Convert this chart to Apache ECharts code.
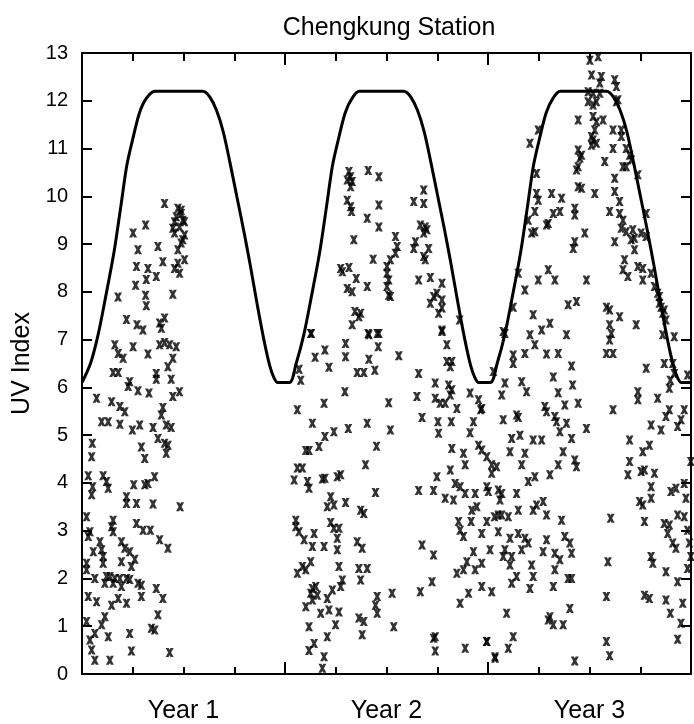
<!doctype html>
<html>
<head>
<meta charset="utf-8">
<title>Chengkung Station</title>
<style>
  html, body { margin: 0; padding: 0; background: #fff; }
  #main { width: 694px; height: 724px; }
</style>
</head>
<body>
<div id="main"></div>
<script src="https://cdn.jsdelivr.net/npm/echarts@6/dist/echarts.min.js"></script>
<script>
// x runs in months from the start of year 1 (0..36), y is the UV index
var yearLabels = ['Year 1', 'Year 2', 'Year 3'];
var yearLabelMonths = [6, 18, 30];

// clear-sky maximum UV curve
var curveMonths = [0, 0.5, 0.95, 1.4, 1.9, 2.3, 2.65, 3.0, 3.4, 3.8, 4.3,
    7.15, 7.55, 7.95, 8.35, 8.75, 9.15, 9.55, 9.95, 10.35, 10.75, 11.1, 11.35, 11.57,
    12.26, 12.66, 13.11, 13.56, 14.06, 14.46, 14.81, 15.16, 15.56, 15.96, 16.39,
    19.03, 19.43, 19.83, 20.23, 20.63, 21.03, 21.43, 21.83, 22.23, 22.63, 22.98, 23.23, 23.45,
    24.14, 24.54, 24.99, 25.44, 25.94, 26.34, 26.69, 27.04, 27.44, 27.84, 28.27,
    31.01, 31.41, 31.81, 32.21, 32.61, 33.01, 33.41, 33.81, 34.21, 34.61, 34.96, 35.21, 35.43, 36];
var curveUV = [6.1, 6.5, 7.1, 7.9, 8.85, 9.8, 10.65, 11.2, 11.75, 12.05, 12.2,
    12.2, 12.08, 11.8, 11.35, 10.7, 10.0, 9.3, 8.55, 7.75, 7.0, 6.45, 6.2, 6.1,
    6.1, 6.5, 7.1, 7.9, 8.85, 9.8, 10.65, 11.2, 11.75, 12.05, 12.2,
    12.2, 12.08, 11.8, 11.35, 10.7, 10.0, 9.3, 8.55, 7.75, 7.0, 6.45, 6.2, 6.1,
    6.1, 6.5, 7.1, 7.9, 8.85, 9.8, 10.65, 11.2, 11.75, 12.05, 12.2,
    12.2, 12.08, 11.8, 11.35, 10.7, 10.0, 9.3, 8.55, 7.75, 7.0, 6.45, 6.2, 6.1, 6.1];

// measured daily UV index, [month, uv]
var year1Obs = [[4.88,9.85],[5.67,9.75],[5.86,9.71],[5.57,9.57],[5.86,9.64],[5.96,9.50],[6.06,9.47],[5.47,9.47],[5.77,9.36],[5.37,9.33],[5.47,9.23],[6.06,9.19],[5.96,9.09],[5.86,9.02],[5.67,8.88],[4.49,8.95],[3.31,8.88],[3.02,9.23],[3.76,9.40],[3.22,8.53],[3.90,8.49],[4.39,8.32],[3.80,8.26],[4.78,8.63],[5.67,8.60],[5.47,8.49],[6.06,8.67],[5.77,8.39],[3.17,8.14],[3.76,7.93],[2.13,7.89],[5.37,7.95],[3.80,7.71],[2.63,7.42],[3.25,7.31],[3.60,7.20],[4.59,7.35],[4.88,7.45],[4.69,7.24],
    [1.94,6.89],[3.02,6.85],[2.14,6.71],[2.43,6.61],[3.90,6.70],[4.59,6.89],[4.88,6.94],[5.18,6.89],[5.57,6.85],[5.37,6.61],[5.08,6.43],[1.84,6.31],[2.14,6.31],[4.39,6.29],[4.39,6.17],[5.27,6.17],[2.82,6.12],[2.73,6.02],[3.31,5.93],[3.96,5.88],[5.76,5.91],[5.37,5.81],[0.86,5.77],[1.75,5.70],[2.24,5.60],[2.53,5.49],[4.78,5.58],[4.69,5.42],[1.16,5.28],[1.55,5.28],[2.24,5.23],[3.41,5.21],[2.98,5.11],[4.20,5.16],[4.98,5.21],[5.27,5.16],[4.49,4.93],[4.88,4.83],[5.08,4.79],[4.98,4.62],[0.61,4.83],[0.57,4.55],[3.51,4.75],[3.71,4.51],
    [0.37,4.15],[1.25,4.15],[1.45,4.03],[1.55,3.89],[0.63,3.92],[0.57,3.75],[3.06,3.96],[3.71,3.96],[3.90,3.99],[4.29,4.13],[2.63,3.71],[2.63,3.57],[3.22,3.57],[4.20,3.56],[5.80,3.50],[0.27,3.29],[1.84,3.22],[1.75,3.08],[1.84,2.98],[0.47,2.98],[0.37,2.88],[3.22,3.15],[3.61,3.01],[4.04,3.01],[1.06,2.77],[1.16,2.60],[0.67,2.56],[1.25,2.46],[1.25,2.32],[2.33,2.77],[2.53,2.63],[2.82,2.56],[4.59,2.81],[5.08,2.63],[3.12,2.40],[2.92,2.25],[2.33,2.35],[0.27,2.32],[0.27,2.18],
    [0.76,2.00],[1.45,2.04],[1.65,2.04],[1.94,2.00],[2.24,2.00],[2.63,2.00],[2.82,1.98],[3.31,1.90],[3.51,1.86],[1.84,1.90],[1.35,1.90],[2.33,1.83],[4.39,1.79],[4.78,1.58],[3.51,1.62],[0.86,1.51],[1.75,1.44],[2.14,1.58],[2.63,1.48],[4.49,1.24],[1.35,1.20],[1.16,1.03],[4.10,0.96],[0.37,1.62],[0.27,1.10],
    [0.76,0.85],[1.55,0.78],[0.47,0.71],[0.57,0.50],[2.82,0.85],[4.30,0.92],[2.92,0.48],[0.76,0.29],[1.65,0.29],[5.18,0.45]];

var year2Obs = [[15.78,10.52],[15.88,10.41],[15.97,10.31],[15.68,10.34],[15.88,10.20],[16.92,10.54],[17.55,10.41],[15.68,9.92],[15.88,9.78],[15.93,9.68],[17.55,9.82],[16.86,9.54],[17.55,9.36],[16.07,9.09],[18.53,9.16],[18.63,8.95],[18.53,8.81],[18.23,8.67],[18.03,8.53],[18.03,8.39],[18.13,8.25],[18.03,8.11],[18.13,7.93],[18.23,7.90],[19.61,8.91],[19.71,9.05],[20.49,8.91],[20.20,8.74],[20.29,8.67],[17.21,8.68],[15.29,8.49],[15.78,8.51],[15.39,8.42],[16.21,8.28],[15.68,8.07],[15.97,8.00],[16.86,8.11],[19.90,8.25],[20.59,8.30],[21.28,8.18],[20.98,7.97],[20.79,7.90],[20.59,7.76],[21.28,7.83],[21.28,7.66],[21.08,7.55],[16.13,7.59],[16.47,7.55],[16.37,7.48],[15.97,7.31],[20.20,10.13],[20.20,9.85],[19.61,9.89],[20.00,9.40],[20.29,9.36],[20.20,9.23],[20.39,9.30],[13.52,7.13],[16.92,7.13],[17.45,7.13],[21.28,7.20],[22.32,7.41],
    [13.56,7.13],[15.58,6.92],[16.96,7.10],[17.55,7.13],[17.51,6.85],[14.36,6.78],[13.78,6.63],[15.58,6.64],[16.96,6.59],[18.73,6.66],[14.60,6.42],[16.27,6.31],[16.66,6.31],[17.31,6.36],[12.83,6.38],[12.93,6.15],[19.90,6.29],[21.28,7.17],[21.57,6.89],[21.57,6.54],[21.86,6.54],[21.77,6.43],[21.67,6.05],[21.86,5.95],[20.88,6.09],[21.77,5.84],[20.88,5.77],[21.18,5.67],[21.47,5.67],[22.16,5.56],[22.94,5.88],[23.44,5.74],[23.63,5.56],[23.57,5.53],[19.80,5.81],[15.54,5.91],[14.31,5.67],[18.13,5.68],[12.73,5.53],[13.62,5.25],[14.89,5.07],[14.36,4.97],[15.74,5.14],[16.86,5.25],[18.23,5.11],[20.10,5.37],[21.04,5.28],[21.08,5.04],[21.83,5.28],[23.14,5.28],[22.94,5.05],
    [17.41,4.77],[21.86,4.72],[13.23,4.68],[13.42,4.68],[14.01,4.76],[22.55,4.62],[23.44,4.79],[23.63,4.69],[22.65,4.38],[23.93,4.55],[24.22,4.38],[12.73,4.31],[13.03,4.31],[12.54,4.06],[13.33,4.03],[13.42,3.89],[14.21,4.08],[14.36,4.10],[15.09,4.13],[15.29,4.17],[16.76,4.38],[20.98,4.13],[21.77,4.27],[19.90,3.84],[20.78,3.84],[17.35,3.80],[21.47,3.68],[21.96,3.64],[22.06,3.99],[22.35,3.92],[22.65,3.78],[23.24,3.78],[23.04,3.43],[23.34,3.50],[23.93,3.92],[24.02,3.82],[24.22,4.20],[14.70,3.71],[14.50,3.50],[14.89,3.54],[15.58,3.59],[16.47,3.43],[16.66,3.36],
    [12.64,3.22],[12.64,3.08],[12.83,2.98],[13.13,2.81],[13.72,2.94],[13.62,2.67],[14.31,2.67],[14.70,3.17],[14.89,3.05],[15.19,3.05],[15.09,2.84],[15.09,2.60],[16.27,2.77],[16.56,2.63],[22.26,3.19],[22.35,3.01],[22.55,2.88],[23.00,3.19],[23.63,2.94],[23.93,3.19],[24.38,3.29],[20.10,2.70],[20.78,2.49],[24.12,2.60],[12.73,2.11],[13.03,2.25],[13.23,2.18],[13.52,2.35],[15.19,2.25],[16.37,2.21],[16.86,2.21],[16.47,1.97],[22.16,2.11],[22.55,2.18],[22.75,2.35],[23.14,2.56],[23.24,2.18],[23.63,2.32],
    [13.62,1.79],[13.82,1.83],[13.52,1.69],[13.91,1.65],[14.80,1.76],[15.29,1.83],[15.39,1.97],[14.50,1.58],[13.23,1.41],[13.62,1.55],[14.11,1.27],[14.60,1.34],[15.19,1.30],[17.45,1.62],[17.35,1.44],[18.33,1.69],[20.00,1.72],[20.69,1.93],[22.85,1.69],[23.63,1.83],[24.22,1.72],[22.35,1.48],[17.45,1.27],[13.42,0.99],[14.99,1.03],[16.37,1.17],[16.66,1.10],[18.43,0.99],
    [14.50,0.78],[16.56,0.82],[13.72,0.64],[13.42,0.49],[14.31,0.36],[14.21,0.12],[20.78,0.75],[20.88,0.78],[20.88,0.48],[22.65,0.54],[23.93,0.68],[24.42,0.33]];

var year3Obs = [[30.02,12.85],[30.51,12.92],[30.12,12.54],[30.70,12.51],[30.61,12.37],[31.49,12.44],[31.59,12.30],[29.92,12.19],[30.21,12.16],[30.61,12.16],[30.41,11.98],[29.92,11.98],[30.21,11.91],[31.59,11.98],[31.68,12.02],[29.33,11.60],[30.21,11.67],[30.41,11.56],[30.80,11.60],[30.31,11.39],[30.12,11.25],[30.21,11.18],[30.41,11.11],[30.12,11.07],[26.97,11.39],[26.48,11.11],[31.39,11.39],[31.88,11.39],[31.88,11.25],[31.39,11.00],[32.17,11.00],[32.37,10.86],[32.47,10.76],[31.98,10.62],[32.17,10.62],[32.86,10.45],[29.33,10.97],[29.53,10.86],[29.43,10.80],[29.33,10.62],[29.23,10.55],[30.90,10.73],
    [26.87,10.48],[31.49,10.38],[31.49,10.10],[29.33,10.20],[29.53,10.17],[30.31,10.06],[26.87,10.06],[26.97,9.92],[27.76,10.06],[28.35,9.96],[31.78,9.89],[31.19,9.68],[31.78,9.64],[31.98,9.50],[26.77,9.68],[26.38,9.50],[29.13,9.75],[29.13,9.61],[27.86,9.64],[28.25,9.68],[27.56,9.43],[27.46,9.40],[29.72,9.23],[26.58,9.23],[26.77,9.26],[31.88,9.33],[32.17,9.26],[32.56,9.30],[32.66,9.12],[32.47,9.09],[33.05,9.23],[33.35,9.16],[33.35,9.64],[31.49,9.05],[29.13,9.05],[29.04,8.91],
    [32.07,8.67],[31.98,8.46],[32.27,8.32],[32.66,8.88],[32.86,8.53],[33.15,8.49],[33.15,8.25],[33.64,8.39],[33.84,8.11],[34.03,7.97],[34.13,7.90],[34.13,7.76],[34.23,7.68],[34.33,7.55],[34.42,7.62],[34.52,7.41],[25.79,8.39],[27.56,8.46],[27.95,8.25],[26.97,8.25],[26.18,8.04],[29.82,8.25],[28.74,7.73],[29.23,7.80],[31.00,7.68],[31.19,7.62],[31.78,7.48],[31.19,7.31],[31.29,7.13],[32.76,7.31],[26.67,7.52],[27.66,7.34],[27.17,7.20],[26.48,7.10],[28.64,7.10],[25.49,7.68],[24.90,7.17],[25.00,7.13],[34.33,7.10],[35.01,7.06],
    [26.77,6.89],[31.00,6.71],[31.39,6.71],[31.19,6.99],
    [25.49,6.68],[26.18,6.71],[25.49,6.50],[27.46,6.70],[28.15,6.71],[28.94,6.45],[24.32,6.33],[25.00,6.09],[25.99,6.12],[26.28,5.91],[27.86,6.22],[29.00,6.05],[28.15,5.89],[24.81,5.84],[24.90,5.32],[25.69,5.42],[25.79,5.37],[27.36,5.60],[27.46,5.49],[27.95,5.39],[28.05,5.28],[28.54,5.63],[29.33,5.67],[28.64,5.25],[28.25,5.07],[25.40,4.93],[25.89,5.00],[26.67,4.90],[27.17,4.90],[28.94,4.93],[29.82,5.14],
    [24.51,4.34],[25.30,4.65],[26.18,4.62],[25.99,4.38],[28.44,4.65],[29.13,4.48],[29.23,4.34],[28.15,4.38],[26.38,4.03],[26.77,4.13],[27.66,4.17],[24.61,3.85],[24.81,3.78],[24.71,3.64],[25.69,3.78],[24.61,3.33],[24.81,3.33],[25.20,3.29],[25.79,3.43],[26.67,3.43],[26.87,3.54],[27.26,3.61],[27.46,3.33],[28.35,3.22],[24.61,2.98],[25.30,2.84],[25.79,2.94],[26.38,2.74],[26.18,2.84],[24.90,2.46],[25.40,2.46],[25.00,2.60],[25.99,2.60],[25.30,2.28],[26.58,2.28],[27.26,2.56],[27.46,2.81],[27.95,2.53],[28.25,2.39],[27.95,2.18],[28.94,2.53],[28.54,2.88],[28.84,2.74],[28.74,2.00],[28.94,2.00],[25.69,2.04],[25.40,1.90],[26.67,2.04],[26.48,1.79],[27.86,1.83],[28.84,1.37],[25.10,1.27],[27.66,1.20],[27.56,1.13],[27.86,1.03],[28.44,1.03],
    [31.39,5.53],[32.37,4.90],[32.86,5.91],[32.86,5.74],[34.03,5.77],[33.35,6.40],[34.42,6.50],[34.92,6.50],[34.78,6.15],[34.72,5.98],[35.01,6.29],[33.64,5.21],[34.23,5.11],[34.72,5.53],[34.52,5.39],[35.21,5.18],[35.41,5.32],[35.60,5.53],[35.80,6.26],[33.54,4.79],[33.15,4.65],[32.37,4.45],[32.27,4.17],[33.05,4.24],[33.25,4.27],[33.84,4.20],[33.64,3.92],[33.64,3.68],[32.96,3.61],[33.15,3.54],[34.82,3.82],[35.11,3.89],[35.60,3.99],[35.70,3.68],[35.99,4.45],
    [31.25,3.26],[33.25,3.19],[34.42,3.15],[34.72,3.12],[34.62,2.94],[35.21,3.33],[35.60,3.29],[34.92,2.74],[35.11,2.63],[35.80,3.01],[35.90,2.74],[35.99,2.46],[31.09,2.35],[33.64,2.46],[33.74,2.32],[34.52,2.14],[35.21,1.93],[35.80,2.21],[31.00,1.62],[33.25,1.65],[33.54,1.58],[34.52,1.55],[34.78,1.27],[35.51,1.48],[35.41,1.06],
    [23.92,0.68],[25.20,0.54],[25.49,0.78],[24.41,0.36],[29.13,0.27],[31.00,0.68],[31.19,0.38],[35.21,0.73]];

var FONT = "'Liberation Sans', Arial, Helvetica, sans-serif";
// bold "x" marker
var crossSymbol = 'path://M0,0L3.8,0L5,1.94L6.2,0L10,0L6.9,5L10,10L6.2,10L5,8.06L3.8,10L0,10L3.1,5Z';

var curveData = curveMonths.map(function (m, i) { return [m, curveUV[i]]; });
var obsData = year1Obs.concat(year2Obs, year3Obs);

function monthAxis(pos, interval, tickLen, showLine) {
    return {
        type: 'value', position: pos, min: 0, max: 36, interval: interval,
        axisLine: { show: showLine, onZero: false, lineStyle: { color: '#000', width: 2 } },
        axisTick: { show: true, inside: true, length: tickLen, lineStyle: { color: '#000', width: 2 } },
        axisLabel: { show: false },
        splitLine: { show: false }
    };
}

var labelAxis = {
    type: 'value', position: 'bottom', min: 0, max: 36, interval: 6,
    axisLine: { show: false },
    axisTick: { show: false },
    splitLine: { show: false },
    axisLabel: {
        show: true, margin: 25, color: '#000', fontSize: 25, fontFamily: FONT,
        formatter: function (v) {
            var i = yearLabelMonths.indexOf(v);
            return i >= 0 ? yearLabels[i] : '';
        }
    }
};

var myChart = echarts.init(document.getElementById('main'));
var option = {
    animation: false,
    backgroundColor: '#fff',
    title: {
        text: 'Chengkung Station',
        left: 389, top: 16, padding: 0,
        textAlign: 'center',
        textStyle: { color: '#000', fontSize: 25, fontWeight: 'normal', fontFamily: FONT }
    },
    grid: { left: 82, right: 1, top: 53, bottom: 50 },
    xAxis: [
        monthAxis('bottom', 3, 7, true),
        monthAxis('top', 3, 8, true),
        monthAxis('bottom', 12, 12, false),
        monthAxis('top', 12, 12, false),
        labelAxis
    ],
    yAxis: [
        {
            type: 'value', position: 'left', min: 0, max: 13, interval: 1,
            name: 'UV Index', nameLocation: 'middle', nameGap: 30,
            nameTextStyle: { color: '#000', fontSize: 25, fontFamily: FONT },
            axisLine: { show: true, onZero: false, lineStyle: { color: '#000', width: 2 } },
            axisTick: { inside: true, length: 10, lineStyle: { color: '#000', width: 2 } },
            axisLabel: { color: '#000', fontSize: 20, margin: 14, fontFamily: FONT },
            splitLine: { show: false }
        },
        {
            type: 'value', position: 'right', min: 0, max: 13, interval: 1,
            axisLine: { show: true, onZero: false, lineStyle: { color: '#000', width: 2 } },
            axisTick: { inside: true, length: 10, lineStyle: { color: '#000', width: 2 } },
            axisLabel: { show: false },
            splitLine: { show: false }
        }
    ],
    series: [
        {
            name: 'Observed',
            type: 'scatter',
            xAxisIndex: 0, yAxisIndex: 0,
            symbol: crossSymbol,
            symbolSize: [8, 9],
            itemStyle: { color: '#000' },
            data: obsData
        },
        {
            name: 'Clear sky',
            type: 'line',
            xAxisIndex: 0, yAxisIndex: 0,
            showSymbol: false,
            smooth: 0.3,
            lineStyle: { color: '#000', width: 3 },
            data: curveData,
            z: 3
        }
    ]
};
myChart.setOption(option);
</script>
</body>
</html>
